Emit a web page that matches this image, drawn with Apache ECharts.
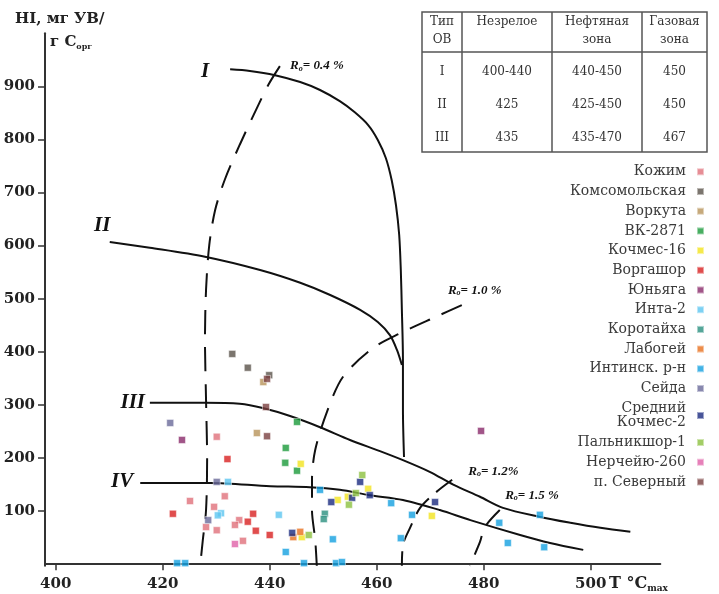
<!DOCTYPE html>
<html><head><meta charset="utf-8">
<script src="https://cdn.jsdelivr.net/npm/echarts@6/dist/echarts.min.js"></script>
<style>html,body{margin:0;padding:0;background:#fff}#c{width:719px;height:594px}</style>
</head><body><div id="c"></div>
<script>
// ---- axis ticks ----
const xTicks = [400, 420, 440, 460, 480, 500];
const yTicks = [100, 200, 300, 400, 500, 600, 700, 800, 900];

// ---- scatter series (Tmax, HI) ----
const seriesNames = ['Кожим', 'Комсомольская', 'Воркута', 'ВК-2871', 'Кочмес-16', 'Воргашор', 'Юньяга', 'Инта-2',
  'Коротайха', 'Лабогей', 'Интинск. р-н', 'Сейда', 'Средний\nКочмес-2', 'Пальникшор-1', 'Нерчейю-260', 'п. Северный'];
const seriesColors = ['#e0707a', '#5a524a', '#b8945a', '#1a9a3a', '#f2e41e', '#d82020', '#8a2a6a', '#5cc6f0',
  '#2a9080', '#e8701e', '#14a0e0', '#6a6a9a', '#1a2a80', '#8cc040', '#e060a8', '#7a4040'];
const kozhim = [[430.1, 240], [425.1, 119], [431.6, 128], [429.6, 108], [434.3, 83], [433.5, 74], [428.1, 70], [430.1, 64], [435.0, 44]];
const komsomolskaya = [[433.0, 396], [435.9, 370], [439.9, 356]];
const vorkuta = [[438.8, 343], [437.6, 247]];
const vk2871 = [[445.1, 268], [443.0, 219], [442.9, 191], [445.1, 176]];
const kochmes16 = [[445.8, 189], [446.0, 51], [452.7, 121], [454.6, 127], [458.4, 142], [470.3, 91]];
const vorgashor = [[432.1, 198], [421.9, 95], [436.9, 95], [435.9, 80], [437.4, 63], [440.0, 55]];
const yunyaga = [[423.6, 234], [479.5, 251]];
const inta2 = [[432.2, 155], [430.9, 96], [430.3, 92], [441.7, 93]];
const korotaikha = [[450.3, 95], [450.1, 85]];
const labogey = [[445.7, 61], [444.4, 51]];
const intinsk = [[422.7, 2], [424.2, 2], [443.0, 23], [446.4, 2], [449.4, 140], [451.8, 47], [452.4, 2], [453.5, 4],
  [462.7, 115], [466.6, 93], [464.5, 49], [482.9, 78], [484.5, 40], [490.5, 93], [491.3, 32]];
const seyda = [[421.4, 266], [430.1, 155], [428.5, 83]];
const sredniyKochmes2 = [[444.2, 59], [451.5, 117], [455.4, 125], [456.9, 155], [458.7, 130], [470.9, 117]];
const palnikshor1 = [[447.3, 55], [454.8, 112], [456.1, 134], [457.3, 168]];
const nercheyu260 = [[433.5, 38]];
const severny = [[439.5, 349], [439.3, 296], [439.5, 241]];
const seriesData = [kozhim, komsomolskaya, vorkuta, vk2871, kochmes16, vorgashor, yunyaga, inta2,
  korotaikha, labogey, intinsk, seyda, sredniyKochmes2, palnikshor1, nercheyu260, severny];

// ---- kerogen type curves (solid) ----
const curveI = [[432.6, 932], [436.3, 929], [441.0, 921], [445.7, 908], [449.4, 893], [453.1, 872], [455.9, 851], [458.4, 827],
  [460.2, 799], [461.7, 765], [462.8, 723], [463.6, 676], [464.2, 620], [464.5, 554], [464.7, 479], [464.9, 385], [464.9, 291], [465.1, 202]];
const curveII = [[410.1, 607], [417.6, 596], [427.9, 579], [438.2, 554], [445.7, 530], [451.3, 507], [456.9, 479], [460.2, 456],
  [462.5, 431], [463.8, 403], [464.7, 375]];
const curveIII = [[417.6, 304], [427.9, 304], [434.4, 302], [438.7, 294], [443.8, 279], [449.4, 258], [455.0, 234], [460.6, 213],
  [464.9, 196], [469.9, 174], [474.3, 150], [479.3, 127], [483.6, 106], [490.5, 89], [496.2, 78], [501.8, 68.5], [507.4, 61]];
const curveIV = [[415.8, 153], [428.9, 153], [440.1, 147], [447.5, 145], [453.1, 140], [458.7, 130], [464.9, 121], [471.8, 102],
  [477.5, 83], [486.8, 55], [492.4, 40], [498.6, 27]];
// ---- vitrinite reflectance isolines (dashed) ----
const ro04 = [[441.9, 938], [439.7, 902], [437.6, 859], [434.4, 790], [431.6, 724], [429.8, 667], [428.7, 601], [428.1, 517],
  [427.9, 422], [428.1, 309], [428.3, 196], [428.1, 102], [427.5, 46], [427.0, -3]];
const ro10 = [[475.9, 488], [471.3, 467], [464.4, 435], [459.3, 407], [453.7, 353], [450.7, 287], [448.5, 215], [447.9, 159],
  [447.9, 102], [448.5, 46], [448.8, -3]];
const ro12 = [[474.1, 159], [470.9, 134], [468.1, 106], [466.2, 68], [464.9, 36], [464.7, -3]];
const ro15 = [[483.0, 102], [480.2, 70], [479.3, 42], [477.4, -3]];

// ---- annotations (data coords) ----
const romanLabels = ['I', 'II', 'III', 'IV'];
const romanPos = [[427.9, 927], [408.7, 637], [414.4, 305], [412.4, 155]];
const roLabels = ['= 0.4 %', '= 1.0 %', '= 1.2%', '= 1.5 %'];
const roPos = [[443.8, 938], [473.3, 516], [477.1, 175], [484.0, 130]];

// ---- table ----
const tableHead = [['Тип', 'ОВ'], ['Незрелое'], ['Нефтяная', 'зона'], ['Газовая', 'зона']];
const tableRows = [['I', '400-440', '440-450', '450'], ['II', '425', '425-450', '450'], ['III', '435', '435-470', '467']];

const chart = echarts.init(document.getElementById('c'));
const lineSeries = [
  { d: curveI, dash: 'solid' }, { d: curveII, dash: 'solid' }, { d: curveIII, dash: 'solid' }, { d: curveIV, dash: 'solid' },
  { d: ro04, dash: [24, 13] }, { d: ro10, dash: [22, 13] }, { d: ro12, dash: [20, 10] }, { d: ro15, dash: [20, 12] }
].map(o => ({
  type: 'line', data: o.d, showSymbol: false, smooth: 0.3, silent: true, z: 1,
  lineStyle: { color: '#111', width: 2, type: o.dash }
}));
const scatterSeries = seriesNames.map((n, i) => ({
  type: 'scatter', name: n, data: seriesData[i], symbol: 'rect', symbolSize: 7, z: 3,
  itemStyle: { color: seriesColors[i], borderColor: 'rgba(255,255,255,0.6)', borderWidth: 1 }
}));

const axisFont = { fontFamily: 'DejaVu Serif', fontWeight: 'bold', fontSize: 15, color: '#222' };
chart.setOption({
  animation: false,
  grid: { left: 45, right: 58.7, top: 33.2, bottom: 28.2 },
  xAxis: {
    type: 'value', min: 398, max: 513, splitLine: { show: false },
    axisLine: { lineStyle: { color: '#333', width: 2 } },
    axisTick: { customValues: xTicks, length: 6, lineStyle: { color: '#333', width: 1.5 } },
    axisLabel: Object.assign({ customValues: xTicks, margin: 11 }, axisFont)
  },
  yAxis: {
    type: 'value', min: -3, max: 1000, splitLine: { show: false },
    axisLine: { show: true, lineStyle: { color: '#333', width: 2 } },
    axisTick: { show: true, customValues: yTicks, length: 7, lineStyle: { color: '#333', width: 1.5 } },
    axisLabel: Object.assign({ customValues: yTicks, margin: 10 }, axisFont)
  },
  legend: {
    data: seriesNames, orient: 'vertical', right: 9, top: 159.5, align: 'right', icon: 'rect',
    itemWidth: 7, itemHeight: 7, itemGap: 5.1, selectedMode: false,
    textStyle: { fontFamily: 'DejaVu Serif', fontSize: 14, color: '#3a3a3a', lineHeight: 14.6, padding: [0, 6, 0, 0] }
  },
  series: lineSeries.concat(scatterSeries)
});

const g = [];
const serif = '"Liberation Serif"';
romanLabels.forEach((t, i) => {
  const p = chart.convertToPixel({ xAxisIndex: 0, yAxisIndex: 0 }, romanPos[i]);
  g.push({ type: 'text', x: p[0], y: p[1], z: 10, style: { text: t, font: 'italic bold 21px ' + serif, fill: '#111', align: 'center', verticalAlign: 'middle' } });
});
roLabels.forEach((t, i) => {
  const p = chart.convertToPixel({ xAxisIndex: 0, yAxisIndex: 0 }, roPos[i]);
  g.push({ type: 'text', x: p[0], y: p[1], z: 10, style: {
    text: '{r|R}{s|o}{r|' + t + '}', align: 'left', verticalAlign: 'middle',
    rich: { r: { fontFamily: 'Liberation Serif', fontStyle: 'italic', fontWeight: 'bold', fontSize: 13, fill: '#111', lineHeight: 14 },
            s: { fontFamily: 'Liberation Serif', fontStyle: 'italic', fontWeight: 'bold', fontSize: 8, fill: '#111', lineHeight: 14, verticalAlign: 'bottom' } }
  } });
});
// axis titles
g.push({ type: 'text', x: 15, y: 19, style: { text: 'HI, мг УВ/', font: 'bold 15px "DejaVu Serif"', fill: '#222', verticalAlign: 'middle' } });
g.push({ type: 'text', x: 50, y: 42, style: { text: '{b|г C}{s|орг}', verticalAlign: 'middle',
  rich: { b: { fontFamily: 'DejaVu Serif', fontWeight: 'bold', fontSize: 15, fill: '#222', lineHeight: 17 },
          s: { fontFamily: 'DejaVu Serif', fontWeight: 'bold', fontSize: 8, fill: '#222', lineHeight: 17, verticalAlign: 'bottom' } } } });
g.push({ type: 'text', x: 609, y: 584, style: { text: '{b|T °C}{s|max}', verticalAlign: 'middle',
  rich: { b: { fontFamily: 'DejaVu Serif', fontWeight: 'bold', fontSize: 16, fill: '#222', lineHeight: 18 },
          s: { fontFamily: 'DejaVu Serif', fontWeight: 'bold', fontSize: 9, fill: '#222', lineHeight: 18, verticalAlign: 'bottom' } } } });
// table
const tX = [422, 462, 552, 642, 707], tY0 = 12, tY1 = 152, tHead = 52;
const rowY = [72, 105, 138];
g.push({ type: 'rect', shape: { x: tX[0], y: tY0, width: tX[4] - tX[0], height: tY1 - tY0 }, style: { fill: '#fff', stroke: '#555', lineWidth: 1.5 }, z: 5 });
g.push({ type: 'line', shape: { x1: tX[0], y1: tHead, x2: tX[4], y2: tHead }, style: { stroke: '#555', lineWidth: 1.5 }, z: 6 });
for (let k = 1; k < 4; k++) g.push({ type: 'line', shape: { x1: tX[k], y1: tY0, x2: tX[k], y2: tY1 }, style: { stroke: '#555', lineWidth: 1.5 }, z: 6 });
const tFont = '12px "DejaVu Serif"';
tableHead.forEach((lines, c) => {
  const cx = (tX[c] + tX[c + 1]) / 2;
  lines.forEach((t, j) => g.push({ type: 'text', x: cx, y: 22 + 18 * j, z: 7, style: { text: t, font: tFont, fill: '#333', align: 'center', verticalAlign: 'middle' } }));
});
tableRows.forEach((row, r) => row.forEach((t, c) => {
  const cx = (tX[c] + tX[c + 1]) / 2;
  g.push({ type: 'text', x: cx, y: rowY[r], z: 7, style: { text: t, font: tFont, fill: '#333', align: 'center', verticalAlign: 'middle' } });
}));
chart.setOption({ graphic: g });
</script></body></html>
